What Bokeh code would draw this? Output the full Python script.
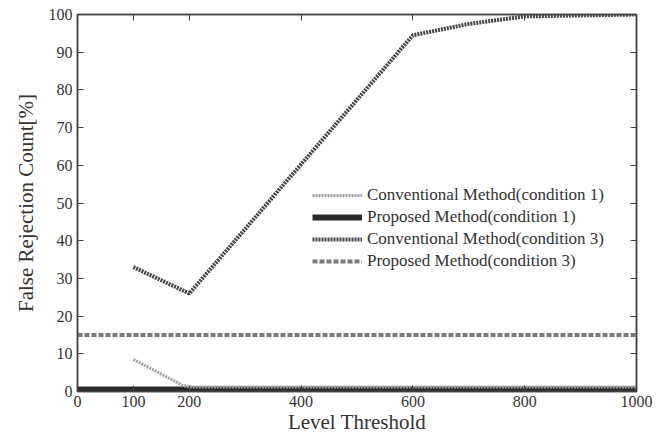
from bokeh.plotting import figure
from bokeh.models import FixedTicker, LinearAxis, Range1d, Legend, LegendItem, CustomJSTickFormatter
from bokeh.embed import file_html
from bokeh.resources import INLINE

# Data
conv1_x = [100, 190, 200, 1000]
conv1_y = [8.5, 1.5, 1.2, 1.2]
prop1_x = [0, 1000]
prop1_y = [0.5, 0.5]
conv3_x = [100, 200, 600, 700, 800, 1000]
conv3_y = [33, 26, 94.5, 97.5, 99.5, 100]
prop3_x = [0, 1000]
prop3_y = [15, 15]

x_ticks = [0, 100, 200, 400, 600, 800, 1000]
y_ticks = [0, 10, 20, 30, 40, 50, 60, 70, 80, 90, 100]

labels = ["Conventional Method(condition 1)", "Proposed Method(condition 1)",
          "Conventional Method(condition 3)", "Proposed Method(condition 3)"]

FONT = "'Liberation Serif', 'DejaVu Serif', serif"
TXT = "#333333"
AX = "#444444"

p = figure(width=654, height=436, output_backend="svg", toolbar_location=None,
           x_range=Range1d(0, 1000), y_range=Range1d(0, 100),
           min_border_left=77, min_border_right=18, min_border_top=14, min_border_bottom=36)
p.grid.visible = False
p.outline_line_color = AX
p.outline_line_width = 1.5

r2 = p.line(prop1_x, prop1_y, line_color="#2a2a2a", line_width=6)
r1 = p.line(conv1_x, conv1_y, line_color="#a0a0a0", line_width=3, line_dash="2 1")
r3 = p.line(conv3_x, conv3_y, line_color="#444444", line_width=4, line_dash="2 1")
r4 = p.line(prop3_x, prop3_y, line_color="#7a7a7a", line_width=4, line_dash="5 2")

for ax in [p.xaxis[0], p.yaxis[0]]:
    ax.major_label_text_font = FONT
    ax.major_label_text_font_size = "16px"
    ax.major_label_text_color = TXT
    ax.axis_label_text_font = FONT
    ax.axis_label_text_font_size = "21px"
    ax.axis_label_text_font_style = "normal"
    ax.axis_label_text_color = TXT
    ax.axis_line_color = AX
    ax.axis_line_width = 1.5
    ax.major_tick_line_color = AX
    ax.major_tick_in = 6
    ax.major_tick_out = 0
    ax.minor_tick_line_color = None

p.xaxis[0].ticker = FixedTicker(ticks=x_ticks)
p.yaxis[0].ticker = FixedTicker(ticks=y_ticks)
p.xaxis[0].axis_label = "Level Threshold"
p.yaxis[0].axis_label = "False Rejection Count[%]"
p.xaxis[0].axis_label_standoff = 0
p.xaxis[0].major_label_standoff = 4
p.yaxis[0].axis_label_standoff = 8

for loc, ticks in [("above", x_ticks), ("right", y_ticks)]:
    a = LinearAxis(ticker=FixedTicker(ticks=ticks), formatter=CustomJSTickFormatter(code="return ''"),
                   major_label_standoff=0,
                   major_tick_in=6, major_tick_out=0, minor_tick_line_color=None,
                   axis_line_color=AX, axis_line_width=1.5, major_tick_line_color=AX)
    p.add_layout(a, loc)

legend = Legend(items=[LegendItem(label=l, renderers=[r]) for l, r in zip(labels, [r1, r2, r3, r4])],
                location=(235, 120), label_text_font=FONT, label_text_font_size="17px",
                label_text_color=TXT, glyph_width=50, spacing=2, padding=0,
                background_fill_alpha=0, border_line_alpha=0, label_height=20)
p.add_layout(legend)

open("out.html", "w").write(file_html(p, INLINE))
